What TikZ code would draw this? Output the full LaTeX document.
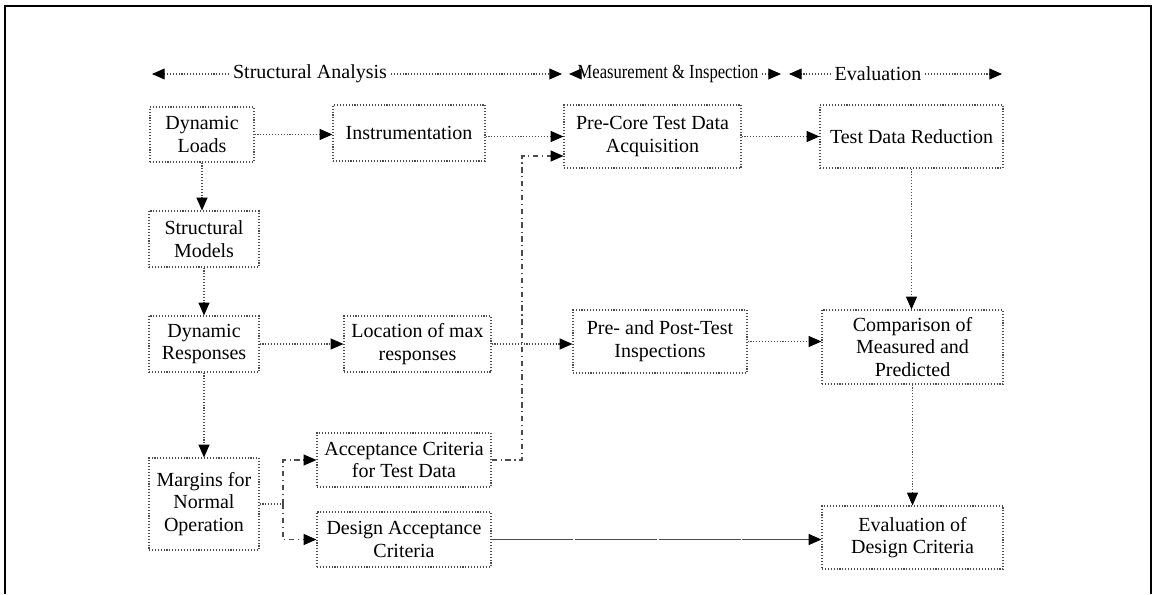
\documentclass[tikz,border=0pt]{standalone}
\usepackage{fontspec}
\setmainfont{Liberation Serif}
\usetikzlibrary{arrows.meta}

\tikzset{
	blok/.style 2 args={draw=black!70, densely dotted, line width=0.6pt, align=center, inner sep=1pt,
		minimum width=#1*0.55pt, minimum height=#2*0.55pt, font=\fontsize{11}{12.5}\selectfont},
	conn/.style={draw=black!70, densely dotted, line width=0.6pt, -{Triangle[length=7pt,width=6pt,black]}},
	plainconn/.style={conn, -},
	ddconn/.style={conn, dash dot},
	longconn/.style={conn, dash pattern=on 45pt off 1pt},
	hdr/.style={font=\fontsize{11}{12.5}\selectfont, inner sep=2pt},
	hdrline/.style={draw=black!70, densely dotted, line width=0.6pt, -{Triangle[length=7pt,width=6pt,black]}}
}

\begin{document}
\begin{tikzpicture}[x=0.55pt, y=-0.55pt]
	\useasboundingbox (0,0) rectangle (1153,594);
	% outer frame, open at the bottom
	\draw[line width=0.9pt] (5,594) -- (5,6) -- (1151,6) -- (1151,594);

	% phase headings
	\node[hdr] (hdrSA) at (310,74) {Structural Analysis};
	\node[hdr] (hdrMI) at (668,74) {\scalebox{0.83}[1]{Measurement \& Inspection}};
	\node[hdr] (hdrEV) at (878,74) {Evaluation};
	\coordinate (saL) at (152,74);
	\coordinate (saR) at (562,74);
	\coordinate (miL) at (569,74);
	\coordinate (miR) at (781,74);
	\coordinate (evL) at (789,74);
	\coordinate (evR) at (1002,74);
	\draw[hdrline] (hdrSA.west) -- (saL);
	\draw[hdrline] (hdrSA.east) -- (saR);
	\draw[hdrline] (hdrMI.west) -- (miL);
	\draw[hdrline] (hdrMI.east) -- (miR);
	\draw[hdrline] (hdrEV.west) -- (evL);
	\draw[hdrline] (hdrEV.east) -- (evR);

	% boxes
	\node[blok={104}{55}] (loads) at (202,134.5) {Dynamic\\Loads};
	\node[blok={152}{56}] (instr) at (409,133) {Instrumentation};
	\node[blok={177}{63}] (precore) at (652.5,136.5) {Pre-Core Test Data\\Acquisition};
	\node[blok={183}{63}] (tdr) at (911.5,136.5) {Test Data Reduction};
	\node[blok={110}{56}] (models) at (204,239) {Structural\\Models};
	\node[blok={110}{56}] (dynresp) at (204,344) {Dynamic\\Responses};
	\node[blok={147}{56}] (maxloc) at (417.5,344) {Location of max\\responses};
	\node[blok={174}{63}] (prepost) at (660,341.5) {Pre- and Post-Test\\Inspections};
	\node[blok={181}{74}] (compare) at (912.5,347) {Comparison of\\Measured and\\Predicted};
	\node[blok={110}{92}] (margins) at (204,504) {Margins for\\Normal\\Operation};
	\node[blok={174}{54}] (acctest) at (404,460) {Acceptance Criteria\\for Test Data};
	\node[blok={174}{55}] (accdesign) at (404,539.5) {Design Acceptance\\Criteria};
	\node[blok={181}{63}] (evaldes) at (912.5,537.5) {Evaluation of\\Design Criteria};

	% connectors
	\draw[conn] (loads.east) -- (loads.east -| instr.west);
	\draw[conn] (instr.east |- precore.west) -- (precore.west);
	\draw[conn] (precore.east) -- (tdr.west);
	\draw[conn] (tdr.south) -- (tdr.south |- compare.north);
	\draw[conn] (compare.south) -- (evaldes.north);
	\draw[conn] (loads.south) -- (loads.south |- models.north);
	\draw[conn] (models.south) -- (dynresp.north);
	\draw[conn] (dynresp.south) -- (margins.north);
	\draw[conn] (dynresp.east) -- (dynresp.east -| maxloc.west);
	\draw[conn] (maxloc.east) -- (maxloc.east -| prepost.west);
	\draw[conn] (prepost.east) -- (prepost.east -| compare.west);

	\coordinate (split) at (283,504);
	\coordinate (bend) at (522,156);
	\draw[plainconn] (margins.east) -- (split);
	\draw[ddconn] (split) |- (acctest.west);
	\draw[ddconn] (split) |- (accdesign.west);
	\draw[ddconn] (acctest.east) -| (bend) -- (bend -| precore.west);
	\draw[longconn] (accdesign.east) -- (accdesign.east -| evaldes.west);
\end{tikzpicture}
\end{document}
